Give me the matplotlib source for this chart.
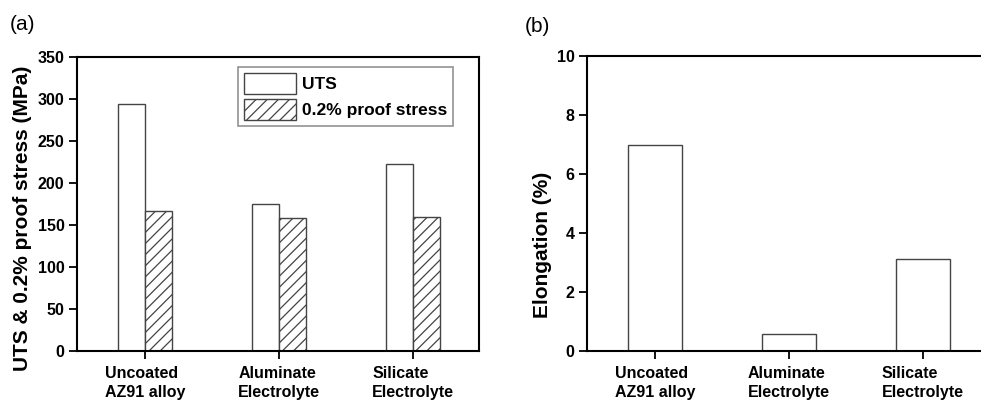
import numpy as np
import matplotlib
matplotlib.use('Agg')
import matplotlib.pyplot as plt

plt.rcParams['font.family'] = ['Liberation Sans', 'DejaVu Sans']
plt.rcParams['hatch.color'] = '#555555'
plt.rcParams['hatch.linewidth'] = 0.9

categories = ['Uncoated\nAZ91 alloy', 'Aluminate\nElectrolyte', 'Silicate\nElectrolyte']
uts = [294, 175, 223]
proof = [167, 158, 160]
elongation = [7.0, 0.56, 3.13]

edge = '#444444'
x = np.arange(len(categories))

fig = plt.figure(figsize=(9.81, 4.03), dpi=100)
W, H = 981.0, 403.0

def style(ax):
    for s in ax.spines.values():
        s.set_linewidth(1.5)
    ax.tick_params(direction='out', length=6, width=1.3, labelsize=11.5)
    ax.tick_params(axis='y', pad=3)
    ax.tick_params(axis='x', pad=5)
    for lab in ax.get_yticklabels():
        lab.set_fontweight('bold')
    for lab in ax.get_xticklabels():
        lab.set_fontweight('bold')
        lab.set_linespacing(1.3)
        lab.set_multialignment('left')

# (a) strength
ax1 = fig.add_axes([77 / W, 1 - 351 / H, (479 - 77) / W, (351 - 57) / H])
ax1.bar(x - 0.1, uts, width=0.2, color='white', edgecolor=edge, linewidth=1.0, label='UTS')
ax1.bar(x + 0.1, proof, width=0.2, color='white', edgecolor=edge, linewidth=1.0,
        hatch='///', label='0.2% proof stress')
ax1.set_xlim(-0.507, 2.49)
ax1.set_ylim(0, 350)
ax1.set_yticks(range(0, 351, 50))
ax1.set_xticks(x)
ax1.set_xticklabels(categories)
style(ax1)
ax1.set_ylabel('UTS & 0.2% proof stress (MPa)', fontsize=15, fontweight='bold', labelpad=5)
ax1.yaxis.set_label_coords(-0.113, 0.45)
leg = ax1.legend(loc='upper right', bbox_to_anchor=(453 / W, 1 - 67 / H), bbox_transform=fig.transFigure,
                 prop={'weight': 'bold', 'size': 12.5}, fancybox=False,
                 handlelength=3.0, handleheight=1.45, handletextpad=0.3, borderpad=0.35,
                 labelspacing=0.3, borderaxespad=0)
leg.get_frame().set_edgecolor('#777777')
leg.get_frame().set_linewidth(1.2)
fig.text(10 / W, 1 - 25 / H, '(a)', fontsize=15, va='center', ha='left')

# (b) elongation
ax2 = fig.add_axes([587 / W, 1 - 351 / H, (990 - 587) / W, (351 - 56) / H])
ax2.bar(x, elongation, width=0.4, color='white', edgecolor=edge, linewidth=1.0)
ax2.set_xlim(-0.507, 2.5)
ax2.set_ylim(0, 10)
ax2.set_yticks(range(0, 11, 2))
ax2.set_xticks(x)
ax2.set_xticklabels(categories)
style(ax2)
ax2.set_ylabel('Elongation (%)', fontsize=15, fontweight='bold', labelpad=6)
ax2.yaxis.set_label_coords(-0.088, 0.36)
fig.text(525 / W, 1 - 27 / H, '(b)', fontsize=15, va='center', ha='left')

fig.savefig('out.png', dpi=100)
